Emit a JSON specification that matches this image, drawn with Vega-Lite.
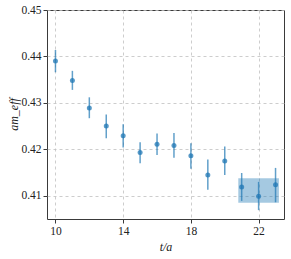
{
  "$schema": "https://vega.github.io/schema/vega-lite/v6.json",
  "width": 237,
  "height": 209,
  "autosize": "none",
  "padding": {"left": 47, "top": 10, "right": 7, "bottom": 40},
  "config": {
    "font": "Liberation Serif",
    "view": {"stroke": "#3a3a3a", "strokeWidth": 1},
    "axis": {
      "domain": false,
      "grid": true,
      "gridDash": [3, 3],
      "gridColor": "#c0c0c0",
      "gridWidth": 0.8,
      "tickColor": "#3a3a3a",
      "tickSize": 4,
      "labelFont": "Liberation Serif",
      "labelFontSize": 11.5,
      "labelColor": "#222",
      "titleFont": "Liberation Serif",
      "titleFontSize": 12,
      "titleFontStyle": "italic",
      "titleFontWeight": "normal",
      "titleColor": "#222"
    }
  },
  "datasets": {
    "pts": [
      {"t": 10, "m": 0.4390, "lo": 0.4366, "hi": 0.4414},
      {"t": 11, "m": 0.4348, "lo": 0.4328, "hi": 0.4369},
      {"t": 12, "m": 0.4289, "lo": 0.4267, "hi": 0.4312},
      {"t": 13, "m": 0.4250, "lo": 0.4224, "hi": 0.4275},
      {"t": 14, "m": 0.4229, "lo": 0.4204, "hi": 0.4254},
      {"t": 15, "m": 0.4193, "lo": 0.4170, "hi": 0.4215},
      {"t": 16, "m": 0.4211, "lo": 0.4188, "hi": 0.4234},
      {"t": 17, "m": 0.4208, "lo": 0.4182, "hi": 0.4235},
      {"t": 18, "m": 0.4186, "lo": 0.4158, "hi": 0.4213},
      {"t": 19, "m": 0.4145, "lo": 0.4113, "hi": 0.4178},
      {"t": 20, "m": 0.4175, "lo": 0.4145, "hi": 0.4206},
      {"t": 21, "m": 0.4119, "lo": 0.4089, "hi": 0.4149},
      {"t": 22, "m": 0.4099, "lo": 0.4069, "hi": 0.4130},
      {"t": 23, "m": 0.4124, "lo": 0.4086, "hi": 0.4160}
    ],
    "band": [
      {"t0": 20.8, "t1": 23.2, "lo": 0.4085, "hi": 0.41375}
    ]
  },
  "layer": [
    {
      "data": {"name": "band"},
      "mark": {"type": "rect", "color": "#1f77b4", "opacity": 0.4},
      "encoding": {
        "x": {"field": "t0", "type": "quantitative"},
        "x2": {"field": "t1"},
        "y": {"field": "lo", "type": "quantitative"},
        "y2": {"field": "hi"}
      }
    },
    {
      "data": {"name": "pts"},
      "mark": {"type": "rule", "color": "#1f77b4", "opacity": 0.7, "strokeWidth": 1.5},
      "encoding": {
        "x": {"field": "t", "type": "quantitative"},
        "y": {"field": "lo", "type": "quantitative"},
        "y2": {"field": "hi"}
      }
    },
    {
      "data": {"name": "pts"},
      "mark": {"type": "point", "filled": true, "color": "#1f77b4", "opacity": 0.75, "size": 25},
      "encoding": {
        "x": {
          "field": "t", "type": "quantitative",
          "scale": {"domain": [9.5, 23.5], "nice": false, "zero": false},
          "axis": {"values": [10, 14, 18, 22], "title": "t/a", "titlePadding": 5}
        },
        "y": {
          "field": "m", "type": "quantitative",
          "scale": {"domain": [0.405, 0.45], "nice": false, "zero": false},
          "axis": {"values": [0.41, 0.42, 0.43, 0.44, 0.45], "format": ".2f", "title": "am_eff", "titleX": -34, "titleY": 104, "titleBaseline": "middle"}
        }
      }
    }
  ]
}
